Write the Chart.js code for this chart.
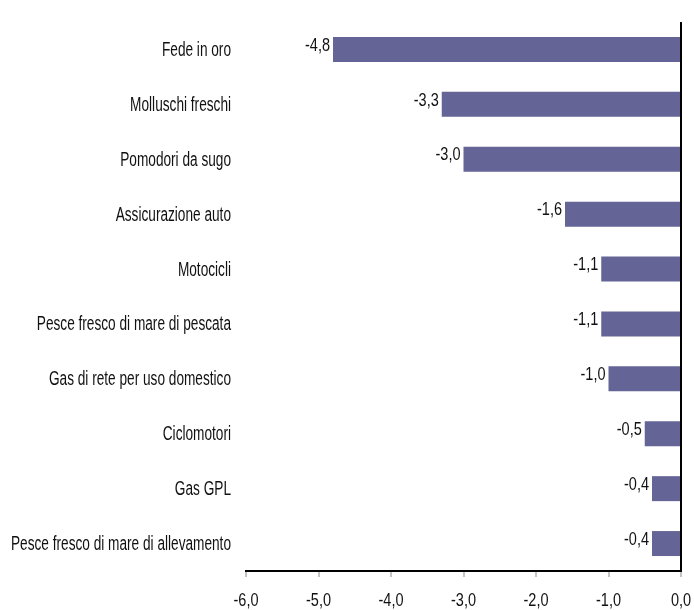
<!DOCTYPE html>
<html lang="it">
<head>
    <meta charset="UTF-8">
    <title>Variazioni di prezzo</title>
    <script src="https://cdn.jsdelivr.net/npm/chart.js"></script>
    <style>
        body { margin: 0; background: #fff; }
        .container { width: 694px; height: 610px; position: relative; }
    </style>
</head>
<body>
    <div class="container">
        <canvas id="priceChart"></canvas>
    </div>
    <script>
        const categories = [
            'Fede in oro',
            'Molluschi freschi',
            'Pomodori da sugo',
            'Assicurazione auto',
            'Motocicli',
            'Pesce fresco di mare di pescata',
            'Gas di rete per uso domestico',
            'Ciclomotori',
            'Gas GPL',
            'Pesce fresco di mare di allevamento'
        ];
        const values = [-4.8, -3.3, -3.0, -1.6, -1.1, -1.1, -1.0, -0.5, -0.4, -0.4];
        const axisMin = -6;
        const axisMax = 0;

        const fontFamily = "'Liberation Sans', Arial, sans-serif";
        const fmt = v => v.toFixed(1).replace('.', ',');

        // narrow-face look: squeeze the text horizontally around its anchor
        function squeezedText(ctx, text, x, y, align, sx) {
            ctx.save();
            ctx.translate(x, y);
            ctx.scale(sx, 1);
            ctx.textAlign = align;
            ctx.fillText(text, 0, 0);
            ctx.restore();
        }

        // horizontal squeeze that gives `sample` the wanted width
        function squeezeFor(ctx, sample, width) {
            return width / ctx.measureText(sample).width;
        }

        // category names, value labels and x tick labels
        const textLayer = {
            id: 'textLayer',
            afterDraw(chart) {
                const ctx = chart.ctx;
                const xs = chart.scales.x;
                const ys = chart.scales.y;
                const meta = chart.getDatasetMeta(0);
                ctx.save();
                ctx.fillStyle = '#111';
                ctx.textBaseline = 'middle';

                ctx.font = '20px ' + fontFamily;
                let sx = squeezeFor(ctx, 'Pesce fresco di mare di allevamento', 220);
                categories.forEach((c, i) => {
                    squeezedText(ctx, c, chart.chartArea.left - 15, ys.getPixelForValue(i) + 1, 'right', sx);
                });

                ctx.font = '19px ' + fontFamily;
                sx = squeezeFor(ctx, '-4,8', 25);
                meta.data.forEach((bar, i) => {
                    squeezedText(ctx, fmt(values[i]), bar.x - 3, bar.y - 4, 'right', sx);
                });

                xs.ticks.forEach(t => {
                    squeezedText(ctx, fmt(t.value), xs.getPixelForValue(t.value), 601, 'center', sx);
                });
                ctx.restore();
            }
        };

        new Chart(document.getElementById('priceChart'), {
            type: 'bar',
            data: {
                labels: categories,
                datasets: [{
                    data: values,
                    backgroundColor: '#646496',
                    borderWidth: 0,
                    barPercentage: 0.91,
                    categoryPercentage: 0.5
                }]
            },
            options: {
                indexAxis: 'y',
                responsive: true,
                maintainAspectRatio: false,
                animation: false,
                layout: { padding: { top: 22, right: 13, left: 238, bottom: 33 } },
                plugins: {
                    legend: { display: false },
                    tooltip: { enabled: false }
                },
                scales: {
                    x: {
                        min: axisMin,
                        max: axisMax,
                        ticks: { stepSize: 1, display: false },
                        grid: {
                            drawOnChartArea: true,
                            color: c => c.tick && c.tick.value === 0 ? '#000' : 'rgba(0,0,0,0)',
                            lineWidth: 2,
                            tickColor: '#888',
                            tickLength: 6,
                            tickWidth: 1
                        },
                        border: { color: '#000', width: 2 }
                    },
                    y: {
                        ticks: { display: false },
                        grid: { display: false },
                        border: { display: false }
                    }
                }
            },
            plugins: [textLayer]
        });
    </script>
</body>
</html>
